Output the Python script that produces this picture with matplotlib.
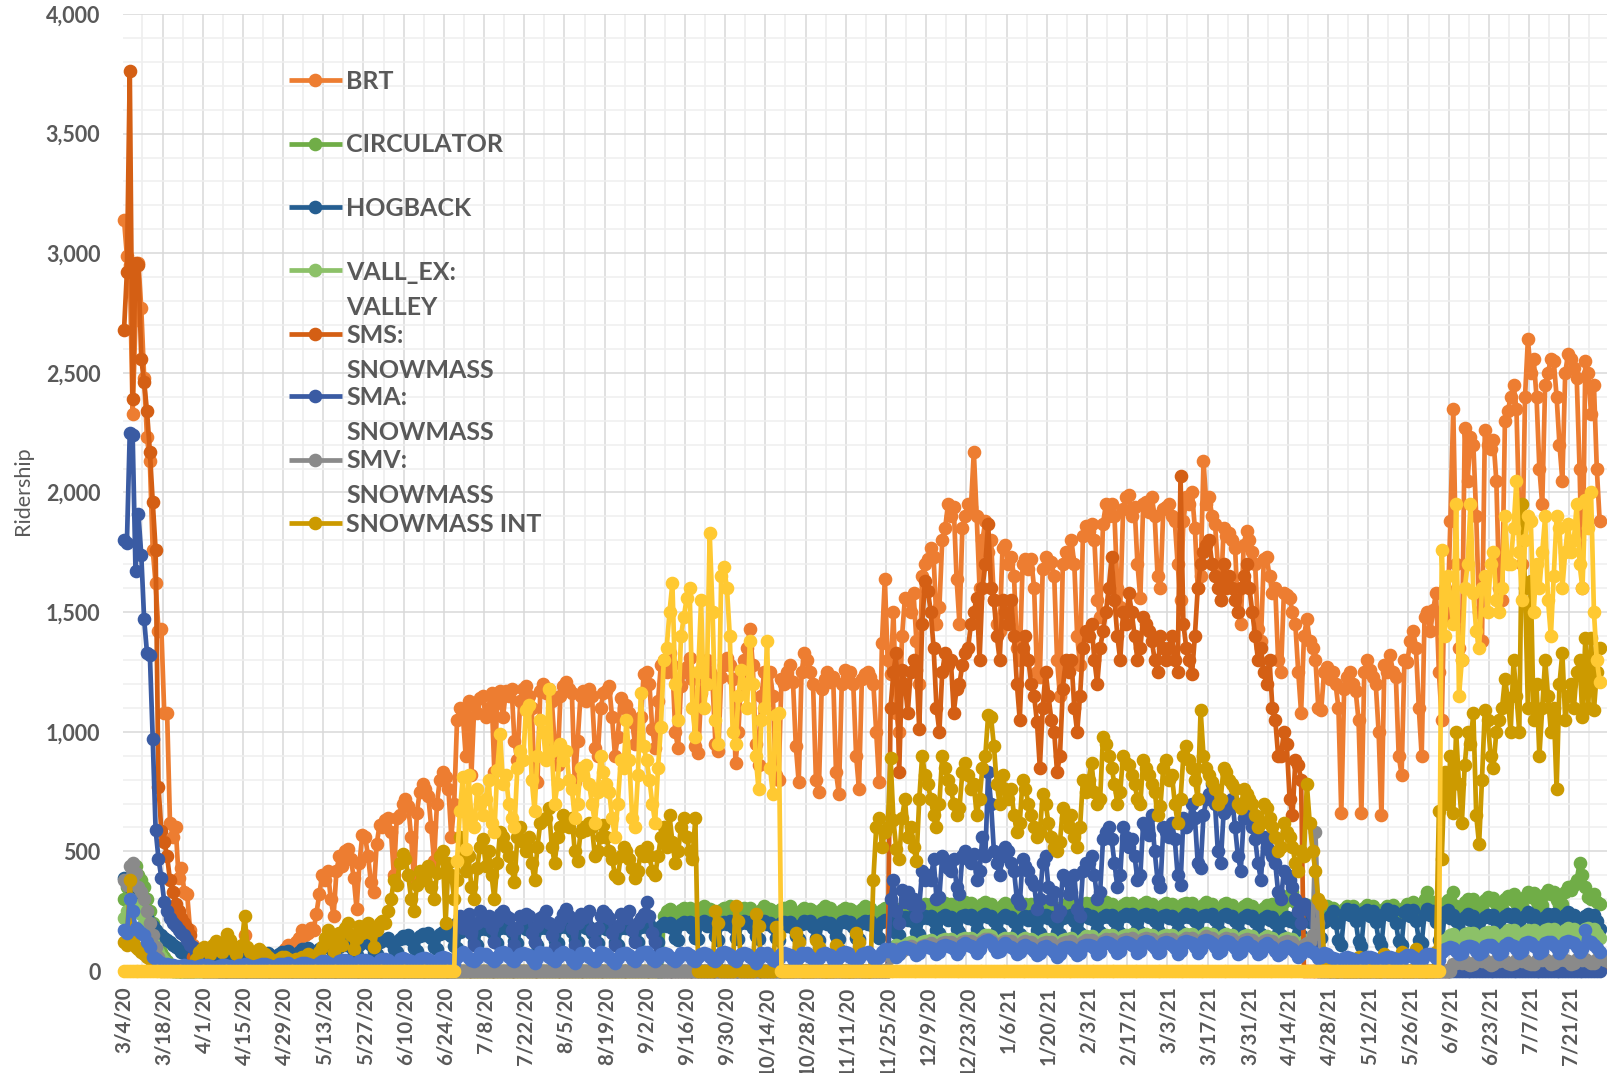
import matplotlib
matplotlib.use("Agg")
import matplotlib.pyplot as plt
from matplotlib.lines import Line2D
import numpy as np

plt.rcParams['font.family'] = ['Lato', 'DejaVu Sans']

# ---------------- data (daily, starting 3/4/20; one row = one week) ----------------
tick_labels = ['3/4/20', '3/18/20', '4/1/20', '4/15/20', '4/29/20', '5/13/20', '5/27/20',
               '6/10/20', '6/24/20', '7/8/20', '7/22/20', '8/5/20', '8/19/20', '9/2/20',
               '9/16/20', '9/30/20', '10/14/20', '10/28/20', '11/11/20', '11/25/20',
               '12/9/20', '12/23/20', '1/6/21', '1/20/21', '2/3/21', '2/17/21', '3/3/21',
               '3/17/21', '3/31/21', '4/14/21', '4/28/21', '5/12/21', '5/26/21', '6/9/21',
               '6/23/21', '7/7/21', '7/21/21']

brt = [
    3140, 2990, 2950, 2330, 2720, 2960, 2770,
    2480, 2230, 2130, 1760, 1620, 1420, 1430,
    1080, 1080, 620, 560, 600, 390, 430,
    330, 320, 170, 110, 80, 60, 50,
    40, 35, 30, 30, 25, 30, 35,
    30, 40, 35, 30, 60, 100, 40,
    150, 60, 40, 30, 40, 50, 45,
    40, 50, 60, 45, 40, 50, 60,
    90, 110, 100, 80, 120, 140, 170,
    150, 160, 180, 170, 240, 320, 400,
    380, 420, 300, 230, 420, 480, 440,
    500, 510, 470, 390, 260, 450, 570,
    560, 480, 370, 330, 530, 610, 600,
    630, 640, 580, 400, 640, 650, 700,
    720, 690, 560, 380, 660, 750, 780,
    760, 730, 600, 460, 700, 800, 830,
    810, 760, 560, 700, 1050, 1100, 1070,
    900, 1130, 820, 1110, 1080, 1140, 1150,
    1060, 1100, 1160, 830, 1120, 1170, 1060,
    1170, 1150, 1180, 960, 880, 1130, 1180,
    1190, 1150, 1100, 800, 790, 1170, 1200,
    1160, 1180, 1130, 950, 860, 1150, 1190,
    1210, 1180, 1160, 790, 960, 1150, 1170,
    1130, 1180, 1150, 930, 900, 1100, 1160,
    1170, 1190, 1060, 900, 980, 1140, 1100,
    1110, 1080, 1040, 950, 1000, 1060, 1240,
    1250, 1200, 1010, 930, 1130, 1280, 1300,
    1250, 1330, 1280, 1000, 930, 1190, 1250,
    1270, 1310, 1220, 940, 910, 1160, 1290,
    1300, 1250, 1200, 950, 920, 1230, 1280,
    1310, 1280, 1220, 870, 1000, 1250, 1300,
    1350, 1430, 1280, 950, 860, 1150, 1250,
    1240, 1250, 1150, 820, 800, 1220, 1200,
    1250, 1280, 1210, 940, 790, 1250, 1330,
    1300, 1250, 1200, 800, 750, 1180, 1220,
    1250, 1210, 1230, 830, 740, 1200, 1260,
    1230, 1250, 1200, 900, 760, 1220, 1240,
    1250, 1230, 1200, 1000, 790, 1370, 1640,
    1300, 1240, 1500, 1080, 1000, 1400, 1560,
    1550, 1500, 1580, 1380, 1200, 1650, 1700,
    1720, 1770, 1730, 1450, 1520, 1800, 1850,
    1950, 1900, 1940, 1640, 1450, 1850, 1900,
    1950, 1940, 2170, 1900, 1600, 1800, 1880,
    1750, 1800, 1550, 1450, 1420, 1770, 1780,
    1700, 1730, 1650, 1350, 1300, 1700, 1720,
    1680, 1720, 1600, 1250, 1230, 1680, 1730,
    1700, 1710, 1650, 1300, 1150, 1700, 1750,
    1720, 1800, 1700, 1400, 1280, 1820, 1860,
    1840, 1870, 1800, 1550, 1480, 1870, 1950,
    1900, 1950, 1900, 1600, 1520, 1930, 1980,
    1990, 1900, 1940, 1700, 1560, 1950, 1960,
    1920, 1980, 1900, 1650, 1600, 1930, 1940,
    1950, 1900, 1880, 1700, 1550, 1880, 1980,
    1950, 2000, 1850, 1600, 1650, 2130, 1950,
    1980, 1900, 1870, 1700, 1550, 1850, 1820,
    1830, 1800, 1770, 1500, 1450, 1780, 1840,
    1800, 1750, 1700, 1430, 1380, 1720, 1730,
    1650, 1580, 1600, 1300, 1250, 1580, 1570,
    1560, 1500, 1450, 1250, 1080, 1400, 1470,
    1380, 1350, 1300, 1100, 1090, 1250, 1270,
    1220, 1250, 1200, 1100, 660, 1180, 1230,
    1250, 1200, 1170, 1050, 660, 1250, 1300,
    1260, 1230, 1200, 1000, 650, 1280, 1250,
    1320, 1250, 1230, 900, 820, 1300, 1290,
    1380, 1420, 1350, 1100, 900, 1480, 1500,
    1420, 1510, 1580, 1250, 1050, 1600, 1480,
    1880, 2350, 1700, 1350, 1300, 2270, 2050,
    2230, 2200, 1900, 1500, 1380, 2260, 2200,
    2180, 2220, 2050, 1600, 1550, 2300, 2340,
    2400, 2450, 2350, 1900, 1700, 2400, 2640,
    2500, 2560, 2400, 2100, 1950, 2450, 2500,
    2560, 2550, 2400, 2200, 2050, 2500, 2580,
    2560, 2520, 2480, 2100, 1600, 2550, 2500,
    2330, 2450, 2100, 1880,
]

circulator = (
    [300, 350, 380, 420, 440, 400, 380,
     350, 300, 250, 200, 150, 100, 80,
     60, 40, 20, 0, 0, 0, 0]
    + [0] * 161   # 3/25/20 - 9/1/20: line sits at zero
    + [0, 0, 0, 0, 0, 0, 230,
       250, 260, 245, 230, 235, 255, 265,
       255, 265, 250, 235, 240, 260, 270,
       250, 260, 245, 230, 235, 255, 265,
       260, 270, 250, 235, 240, 260, 265,
       255, 265, 245, 230, 240, 255, 270,
       250, 260, 250, 235, 235, 260, 265,
       255, 270, 245, 230, 240, 255, 265,
       250, 260, 250, 235, 235, 260, 270,
       260, 265, 245, 230, 240, 255, 265,
       255, 260, 250, 235, 235, 260, 270,
       250, 265, 245, 230, 240, 255, 265,
       260, 270, 255, 240, 245, 265, 275,
       265, 275, 260, 245, 250, 270, 280,
       270, 280, 260, 245, 250, 275, 285,
       265, 280, 265, 250, 255, 275, 290,
       270, 285, 260, 245, 250, 280, 290,
       275, 280, 265, 250, 255, 275, 285,
       270, 275, 260, 245, 250, 270, 280,
       265, 280, 260, 245, 250, 275, 285,
       270, 275, 265, 250, 255, 270, 280,
       265, 280, 260, 245, 250, 275, 285,
       270, 285, 265, 250, 255, 280, 290,
       275, 280, 260, 245, 250, 275, 285,
       270, 285, 265, 250, 255, 280, 290,
       265, 280, 260, 245, 250, 275, 285,
       270, 280, 265, 250, 255, 280, 285,
       275, 285, 260, 245, 250, 275, 290,
       270, 280, 265, 250, 255, 280, 285,
       265, 275, 260, 245, 250, 270, 280,
       260, 270, 255, 240, 245, 265, 275,
       265, 280, 270, 255, 260, 290, 310,
       320, 330, 290, 270, 260, 280, 275,
       260, 270, 255, 240, 245, 265, 270,
       255, 265, 250, 235, 240, 260, 270,
       260, 270, 250, 235, 240, 265, 275,
       255, 270, 255, 240, 245, 260, 270,
       260, 275, 250, 235, 240, 265, 280,
       270, 290, 260, 245, 250, 300, 330,
       280, 290, 265, 250, 255, 285, 295,
       285, 330, 270, 255, 260, 290, 300,
       290, 300, 275, 255, 265, 295, 310,
       295, 305, 280, 260, 265, 300, 315,
       300, 320, 285, 265, 270, 310, 330,
       310, 325, 290, 270, 275, 320, 340,
       320, 330, 295, 275, 280, 330, 350,
       340, 360, 380, 450, 400, 350, 310,
       300, 320, 290, 280]
)

hogback = [
    390, 380, 350, 400, 300, 280, 260,
    240, 220, 200, 190, 170, 160, 150,
    140, 130, 120, 110, 100, 90, 80,
    75, 70, 60, 55, 50, 45, 40,
    40, 45, 50, 40, 30, 45, 50,
    55, 60, 50, 40, 35, 55, 60,
    60, 65, 55, 45, 40, 60, 70,
    70, 75, 65, 50, 45, 70, 80,
    80, 85, 70, 55, 50, 80, 90,
    90, 95, 80, 60, 55, 90, 100,
    100, 105, 90, 70, 60, 100, 110,
    110, 115, 100, 75, 65, 110, 120,
    120, 125, 110, 80, 70, 120, 130,
    130, 140, 120, 90, 80, 135, 145,
    140, 150, 130, 95, 85, 145, 155,
    150, 160, 140, 100, 90, 155, 165,
    160, 170, 145, 105, 95, 165, 175,
    170, 180, 160, 120, 110, 175, 185,
    175, 185, 165, 125, 115, 180, 190,
    180, 190, 165, 125, 115, 185, 190,
    175, 185, 160, 120, 110, 180, 185,
    180, 190, 170, 125, 115, 185, 195,
    185, 190, 165, 130, 120, 190, 195,
    180, 185, 160, 125, 115, 185, 190,
    175, 185, 165, 120, 110, 180, 190,
    180, 190, 170, 130, 120, 185, 195,
    185, 195, 170, 130, 120, 190, 200,
    190, 200, 180, 140, 130, 195, 205,
    195, 205, 180, 140, 135, 200, 210,
    190, 200, 185, 145, 130, 195, 205,
    195, 210, 185, 140, 135, 200, 210,
    200, 205, 180, 145, 135, 205, 210,
    195, 200, 185, 140, 130, 200, 205,
    190, 205, 180, 145, 135, 195, 210,
    200, 210, 185, 140, 130, 200, 205,
    195, 200, 180, 145, 135, 205, 210,
    200, 205, 185, 140, 135, 200, 210,
    195, 210, 190, 150, 140, 205, 215,
    210, 220, 200, 160, 150, 215, 225,
    215, 225, 205, 165, 155, 220, 230,
    220, 230, 210, 170, 160, 225, 235,
    215, 225, 210, 175, 165, 230, 235,
    220, 235, 215, 175, 160, 230, 240,
    225, 230, 210, 170, 160, 225, 235,
    220, 225, 205, 165, 155, 220, 230,
    215, 230, 210, 170, 160, 225, 235,
    220, 225, 205, 165, 155, 220, 230,
    225, 235, 210, 170, 160, 230, 240,
    220, 230, 215, 175, 165, 225, 235,
    225, 235, 210, 170, 160, 230, 240,
    230, 240, 215, 175, 165, 235, 240,
    225, 235, 210, 170, 160, 230, 235,
    220, 230, 215, 175, 165, 225, 240,
    225, 235, 210, 170, 160, 230, 235,
    230, 240, 215, 175, 165, 235, 240,
    225, 230, 210, 170, 160, 225, 235,
    220, 230, 205, 165, 155, 220, 230,
    215, 225, 200, 160, 150, 215, 225,
    210, 220, 200, 160, 150, 210, 220,
    205, 215, 195, 150, 140, 205, 215,
    230, 250, 200, 130, 110, 240, 260,
    235, 255, 210, 125, 105, 245, 255,
    230, 250, 205, 130, 110, 240, 260,
    235, 250, 200, 125, 110, 245, 255,
    230, 255, 210, 130, 115, 240, 260,
    235, 250, 205, 130, 110, 245, 255,
    220, 235, 210, 170, 160, 225, 240,
    215, 230, 205, 165, 155, 225, 235,
    220, 235, 210, 170, 160, 230, 240,
    225, 240, 215, 175, 165, 230, 245,
    220, 235, 210, 170, 160, 225, 240,
    225, 240, 215, 175, 165, 235, 245,
    220, 235, 210, 170, 160, 230, 240,
    225, 235, 210, 175,
]

vall_ex = (
    [220, 250, 300, 280, 260, 250, 240,
     200, 180, 150, 120, 100, 80, 60,
     40, 30, 20, 10, 0, 0, 0]
    + [0] * 245   # 3/25/20 - 11/24/20: zero
    + [0, 80, 100, 110, 90, 100, 110,
       115, 120, 110, 95, 100, 120, 125,
       125, 130, 120, 100, 105, 130, 135,
       130, 135, 125, 105, 110, 135, 140,
       135, 140, 130, 110, 115, 140, 150,
       150, 145, 130, 110, 115, 135, 140,
       135, 140, 125, 105, 110, 135, 140,
       130, 135, 125, 105, 110, 130, 135,
       130, 135, 120, 100, 105, 130, 135,
       135, 140, 125, 105, 110, 135, 145,
       140, 145, 130, 110, 115, 140, 150,
       145, 150, 135, 110, 120, 145, 150,
       145, 155, 135, 115, 120, 150, 155,
       145, 150, 135, 110, 120, 145, 150,
       140, 150, 130, 110, 115, 145, 155,
       145, 155, 135, 115, 120, 150, 160,
       150, 155, 140, 115, 120, 150, 155,
       145, 150, 135, 110, 115, 145, 150,
       140, 145, 130, 110, 115, 140, 145,
       135, 140, 125, 105, 110, 135, 140,
       130, 135, 120, 100, 105, 125, 130,
       120, 125, 110, 90, 0, 0, 0]
    + [0] * 35    # 4/28/21 - 6/1/21: zero
    + [0, 0, 0, 0, 120, 130, 140,
       150, 155, 140, 120, 130, 155, 160,
       155, 160, 145, 125, 130, 160, 165,
       160, 165, 150, 125, 135, 160, 170,
       160, 170, 150, 130, 135, 165, 170,
       165, 170, 155, 130, 140, 170, 175,
       165, 175, 155, 135, 140, 170, 180,
       170, 175, 160, 135, 145, 175, 180,
       170, 175, 155, 140]
)

sms = (
    [2680, 2920, 3760, 2390, 2960, 2950, 2560,
     2460, 2340, 2170, 1960, 1760, 770, 585,
     540, 480, 380, 330, 280, 250, 220,
     200, 180, 150, 60, 40, 30, 20]
    + [0] * 238   # 4/1/20 - 11/24/20: zero
    + [0, 1100, 1250, 1330, 830, 1260, 1200,
       1080, 1250, 1300, 1260, 1010, 1450, 1630,
       1590, 1500, 1350, 1100, 1000, 1250, 1330,
       1280, 1300, 1080, 1180, 1200, 1280, 1330,
       1350, 1450, 1500, 1560, 1300, 1600, 1700,
       1870, 1600, 1550, 1400, 1300, 1550, 1500,
       1450, 1550, 1400, 1200, 1050, 1350, 1400,
       1300, 1200, 1150, 1040, 850, 1100, 1250,
       1150, 1050, 1000, 830, 900, 1180, 1300,
       1250, 1300, 1100, 1000, 1150, 1350, 1420,
       1400, 1450, 1300, 1200, 1350, 1420, 1500,
       1600, 1730, 1550, 1400, 1300, 1500, 1450,
       1580, 1500, 1400, 1300, 1350, 1480, 1450,
       1420, 1380, 1300, 1250, 1400, 1350, 1300,
       1350, 1400, 1300, 1250, 2070, 1450, 1350,
       1300, 1240, 1400, 1600, 1700, 1750, 1780,
       1800, 1700, 1650, 1600, 1550, 1700, 1600,
       1650, 1600, 1550, 1500, 1600, 1650, 1700,
       1600, 1500, 1400, 1300, 1350, 1250, 1200,
       1300, 1100, 1050, 900, 900, 1000, 950,
       720, 650, 880, 860, 800, 0, 0]
    + [0] * 49    # 4/21/21 - 6/8/21: zero
    + [10, 8, 12, 6, 5, 10, 12,
       10, 8, 12, 6, 5, 10, 12,
       12, 10, 14, 8, 6, 12, 14,
       12, 10, 14, 8, 6, 12, 14,
       14, 12, 15, 8, 6, 12, 15,
       14, 12, 15, 8, 6, 12, 15,
       15, 12, 16, 9, 7, 14, 16,
       15, 12, 14, 10]
)

sma = (
    [1800, 1790, 2250, 2240, 1670, 1910, 1740,
     1470, 1330, 1320, 970, 590, 470, 390,
     290, 250, 220, 200, 190, 170, 160,
     150, 130, 110, 100, 80, 60, 40,
     30, 25, 20, 15, 10, 0, 0]
    + [0] * 77    # 4/8/20 - 6/23/20: zero
    + [0, 0, 0, 0, 200, 230, 180,
       220, 240, 160, 110, 200, 250, 230,
       210, 230, 180, 120, 210, 240, 250,
       230, 220, 170, 110, 180, 230, 220,
       240, 230, 160, 120, 190, 220, 230,
       250, 200, 150, 100, 190, 210, 240,
       260, 230, 180, 110, 200, 240, 220,
       230, 250, 170, 120, 180, 230, 250,
       240, 220, 160, 110, 190, 240, 230,
       220, 250, 170, 120, 200, 220, 240,
       290, 230, 160, 120, 0, 0, 0]
    + [0] * 77    # 9/9/20 - 11/24/20: zero
    + [0, 300, 380, 250, 200, 340, 290,
       330, 280, 300, 230, 270, 420, 380,
       400, 380, 470, 300, 310, 480, 460,
       430, 420, 470, 350, 320, 480, 500,
       470, 450, 490, 380, 420, 560, 480,
       830, 700, 500, 450, 400, 480, 520,
       500, 450, 420, 300, 280, 470, 440,
       420, 380, 360, 260, 300, 450, 480,
       350, 300, 330, 230, 250, 400, 380,
       320, 330, 400, 260, 230, 420, 450,
       450, 480, 400, 300, 330, 550, 580,
       600, 550, 450, 350, 400, 600, 560,
       520, 550, 480, 380, 400, 620, 600,
       570, 650, 500, 380, 350, 600, 580,
       560, 620, 550, 400, 360, 640, 600,
       620, 700, 640, 450, 430, 650, 720,
       740, 780, 700, 500, 450, 660, 700,
       680, 720, 600, 480, 420, 640, 650,
       640, 600, 550, 450, 380, 560, 520,
       500, 480, 450, 330, 300, 420, 400,
       380, 350, 300, 250, 200, 280, 260,
       250, 230, 200, 0, 0, 0, 0]
    + [0] * 95    # 4/28/21 - 7/31/21: zero
)

smv = (
    [380, 360, 440, 450, 410, 350, 330,
     300, 250, 200, 150, 100, 60, 30,
     20, 10, 5, 5, 5, 5, 5]
    + [0] * 245   # 3/25/20 - 11/24/20: near zero
    + [10, 60, 80, 90, 70, 85, 95,
       100, 105, 95, 80, 85, 105, 110,
       110, 115, 105, 85, 90, 115, 120,
       115, 120, 110, 90, 95, 120, 125,
       120, 125, 115, 95, 100, 125, 135,
       135, 130, 115, 95, 100, 120, 125,
       120, 125, 110, 90, 95, 120, 125,
       115, 120, 110, 90, 95, 115, 120,
       115, 120, 105, 85, 90, 115, 120,
       120, 125, 110, 90, 95, 120, 130,
       125, 130, 115, 95, 100, 125, 135,
       130, 135, 120, 95, 105, 130, 135,
       130, 140, 120, 100, 105, 135, 140,
       130, 135, 120, 95, 105, 130, 135,
       125, 135, 115, 95, 100, 130, 140,
       130, 140, 120, 100, 105, 135, 145,
       135, 140, 125, 100, 105, 135, 140,
       130, 135, 120, 95, 100, 130, 135,
       125, 130, 115, 95, 100, 125, 130,
       120, 125, 110, 90, 95, 120, 125,
       115, 120, 105, 85, 90, 110, 115,
       120, 150, 580, 200, 50, 20, 10]
    + [0] * 42    # 4/20/21 - 6/4/21: zero
    + [0, 30, 35, 40,
       35, 40, 30, 25, 30, 40, 45,
       40, 45, 35, 25, 30, 45, 40,
       45, 40, 35, 30, 35, 45, 50,
       40, 45, 35, 30, 30, 45, 50,
       45, 50, 40, 30, 35, 50, 45,
       50, 45, 40, 30, 35, 50, 55,
       45, 50, 40, 35, 35, 50, 55,
       50, 45, 40, 35]
)

snowmass_int = (
    [120, 110, 380, 130, 100, 90, 80,
     70, 60, 50, 30, 20, 10, 0,
     0, 0, 0, 0, 0, 0, 0,
     0, 0, 0, 0, 50, 80, 90,
     100, 90, 70, 110, 125, 100, 80,
     120, 155, 130, 90, 70, 100, 110,
     230, 100, 80, 60, 70, 90, 80,
     70, 60, 50, 40, 30, 50, 60,
     60, 50, 40, 30, 50, 40, 60,
     60, 70, 50, 40, 60, 80, 100,
     140, 170, 120, 80, 130, 160, 110,
     180, 200, 150, 90, 140, 190, 160,
     190, 200, 160, 100, 170, 200, 210,
     200, 250, 300, 380, 360, 450, 490,
     470, 400, 300, 250, 360, 420, 380,
     400, 440, 350, 300, 410, 480, 500,
     200, 450, 400, 300, 380, 560, 500,
     420, 480, 350, 300, 430, 520, 550,
     440, 500, 400, 300, 450, 580, 560,
     520, 480, 430, 370, 560, 600, 540,
     500, 560, 450, 380, 520, 620, 630,
     640, 680, 520, 450, 560, 600, 650,
     620, 600, 640, 500, 460, 580, 600,
     590, 620, 600, 480, 500, 560, 610,
     560, 500, 470, 400, 390, 480, 520,
     500, 470, 430, 390, 420, 500, 480,
     520, 480, 420, 400, 480, 560, 600,
     520, 650, 540, 450, 500, 600, 640,
     560, 500, 470, 640, 0, 0, 0,
     0, 0, 0, 250, 200, 0, 0,
     0, 0, 0, 270, 210, 0, 0,
     0, 0, 0, 240, 190, 0, 0,
     0, 0, 0, 185, 150, 0, 0,
     0, 0, 0, 160, 120, 0, 0,
     0, 0, 0, 130, 100, 0, 0,
     0, 0, 0, 110, 90, 0, 0,
     0, 0, 0, 160, 120, 0, 0,
     0, 0, 380, 600, 640, 520, 580,
     600, 890, 630, 510, 470, 640, 720,
     560, 600, 520, 460, 720, 900, 820,
     780, 720, 650, 600, 700, 900, 850,
     800, 760, 700, 650, 680, 830, 870,
     820, 760, 780, 650, 720, 850, 900,
     1070, 1060, 940, 780, 700, 820, 760,
     720, 760, 650, 580, 620, 800, 760,
     700, 650, 600, 560, 580, 740, 700,
     620, 560, 520, 500, 540, 680, 640,
     600, 650, 560, 520, 600, 800, 750,
     800, 870, 750, 700, 720, 980, 950,
     900, 850, 780, 700, 750, 900, 870,
     860, 820, 780, 720, 700, 880, 850,
     820, 780, 750, 650, 690, 850, 880,
     800, 820, 700, 620, 720, 900, 940,
     880, 850, 800, 720, 1090, 900, 850,
     820, 790, 760, 700, 720, 850, 830,
     800, 780, 760, 700, 680, 760, 740,
     720, 700, 650, 600, 620, 700, 680,
     640, 600, 560, 500, 520, 620, 580,
     560, 520, 450, 420, 500, 480, 780,
     620, 500, 420, 300, 280, 60, 40,
     0, 30, 0, 0, 40, 0, 0,
     0, 0, 0, 60, 0, 0, 0,
     0, 50, 0, 0, 0, 70, 0,
     0, 0, 0, 0, 80, 0, 0,
     0, 0, 90, 0, 0, 0, 0,
     0, 0, 80, 670, 470, 830, 700,
     900, 660, 1000, 780, 620, 860, 1000,
     950, 1080, 650, 530, 800, 1090, 1050,
     900, 850, 1000, 1050, 1100, 1220, 1140,
     1000, 1300, 1150, 1000, 1950, 1600, 1100,
     1630, 1050, 1200, 900, 1100, 1300, 1150,
     1000, 1100, 760, 1200, 1330, 1050, 1150,
     1200, 1100, 1250, 1300, 1060, 1390, 1100,
     1390, 1090, 1250, 1350]
)

# unlabeled series (legend entries cut off in the original)
yellow_series = (
    [0] * 116     # 3/4/20 - 6/27/20: zero
    + [460, 670, 810,
       510, 820, 640, 600, 760, 700, 650,
       720, 800, 620, 580, 840, 990, 780,
       820, 700, 640, 600, 850, 920, 880,
       1090, 1110, 800, 670, 900, 1050, 1000,
       880, 1180, 920, 700, 780, 950, 880,
       920, 800, 760, 640, 700, 850, 820,
       860, 780, 700, 620, 750, 900, 830,
       780, 750, 640, 560, 700, 880, 850,
       1050, 880, 640, 600, 820, 1160, 940,
       880, 800, 700, 620, 850, 1020, 1300,
       1350, 1500, 1620, 1200, 1050, 1400, 1480,
       1560, 1600, 1100, 980, 1250, 1550, 1100,
       1200, 1830, 1500, 1050, 950, 1650, 1690,
       1600, 1400, 1000, 950, 1150, 1260, 1200,
       1100, 1380, 1200, 900, 760, 1050, 1100,
       1380, 850, 740, 1070, 1080, 0, 0]
    + [0] * 228   # 10/19/20 - 6/3/21: zero
    + [1760, 1400, 1650,
       1550, 1450, 1950, 1150, 1300, 1600, 1700,
       1950, 1580, 1420, 1350, 1600, 1650, 1500,
       1700, 1750, 1550, 1500, 1600, 1900, 1700,
       1700, 1850, 2050, 1750, 1550, 1800, 1900,
       1880, 1500, 1700, 1600, 1750, 1900, 1550,
       1400, 1650, 1900, 1850, 1600, 1750, 1870,
       1750, 1800, 1950, 1700, 1600, 1970, 1850,
       2000, 1500, 1300, 1210]
)

lightblue_series = [
    170, 160, 300, 250, 180, 170, 160,
    150, 120, 100, 60, 50, 40, 35,
    30, 30, 25, 25, 20, 20, 20,
    25, 20, 20, 15, 15, 20, 25,
    20, 25, 20, 15, 15, 20, 25,
    25, 20, 20, 15, 15, 25, 25,
    30, 25, 20, 15, 20, 25, 30,
    30, 25, 20, 15, 20, 30, 30,
    30, 35, 25, 20, 20, 30, 35,
    35, 30, 25, 20, 25, 35, 40,
    40, 35, 30, 25, 30, 40, 45,
    45, 40, 30, 25, 30, 40, 45,
    45, 40, 35, 25, 30, 45, 50,
    50, 45, 35, 30, 35, 50, 55,
    50, 45, 40, 30, 35, 50, 55,
    55, 50, 40, 30, 35, 55, 60,
    55, 50, 40, 35, 60, 70, 80,
    65, 55, 45, 40, 55, 75, 70,
    70, 60, 50, 40, 55, 75, 80,
    75, 60, 45, 40, 60, 70, 75,
    70, 65, 50, 35, 55, 80, 75,
    75, 60, 50, 40, 60, 70, 80,
    70, 65, 45, 35, 55, 75, 70,
    75, 60, 50, 40, 60, 80, 75,
    70, 60, 45, 35, 55, 70, 75,
    75, 65, 50, 40, 60, 75, 80,
    80, 65, 50, 40, 55, 70, 75,
    70, 60, 50, 40, 55, 75, 70,
    75, 65, 50, 40, 60, 70, 75,
    70, 60, 45, 40, 55, 75, 80,
    75, 65, 50, 40, 60, 70, 75,
    70, 60, 50, 35, 55, 75, 70,
    75, 60, 45, 40, 55, 70, 75,
    70, 65, 50, 40, 60, 75, 70,
    75, 60, 50, 40, 55, 70, 75,
    70, 65, 45, 40, 60, 75, 80,
    75, 60, 50, 40, 55, 70, 75,
    80, 70, 55, 45, 60, 80, 90,
    85, 90, 80, 60, 70, 95, 100,
    95, 90, 85, 65, 75, 100, 105,
    100, 95, 90, 70, 80, 105, 110,
    105, 100, 90, 70, 85, 110, 115,
    110, 105, 95, 75, 90, 115, 125,
    130, 120, 100, 80, 85, 110, 115,
    105, 100, 90, 70, 80, 105, 110,
    100, 95, 85, 65, 75, 100, 105,
    95, 90, 80, 60, 70, 95, 100,
    100, 95, 85, 65, 75, 105, 110,
    110, 105, 95, 70, 80, 115, 120,
    115, 110, 95, 75, 85, 115, 120,
    115, 110, 100, 75, 85, 120, 125,
    120, 110, 95, 75, 80, 115, 120,
    115, 110, 95, 70, 85, 120, 125,
    120, 115, 100, 75, 90, 125, 130,
    125, 115, 100, 75, 85, 120, 125,
    120, 110, 95, 70, 80, 115, 120,
    110, 105, 90, 70, 80, 110, 115,
    105, 100, 85, 65, 75, 100, 105,
    95, 90, 80, 60, 70, 90, 95,
    85, 80, 70, 55, 60, 75, 70,
    60, 55, 50, 40, 45, 55, 60,
    55, 50, 45, 35, 40, 55, 60,
    60, 55, 45, 35, 40, 55, 60,
    60, 55, 50, 40, 45, 60, 65,
    65, 60, 50, 40, 45, 65, 70,
    70, 65, 55, 45, 80, 90, 95,
    100, 95, 85, 70, 75, 100, 105,
    105, 100, 85, 70, 80, 105, 110,
    110, 100, 90, 70, 80, 110, 115,
    110, 105, 90, 75, 85, 115, 120,
    115, 105, 95, 75, 85, 115, 120,
    120, 110, 95, 75, 90, 120, 125,
    120, 115, 100, 80, 90, 170, 125,
    120, 110, 95, 80,
]

series_names = ['BRT', 'CIRCULATOR', 'HOGBACK', 'VALL_EX:\nVALLEY', 'SMS:\nSNOWMASS',
                'SMA:\nSNOWMASS', 'SMV:\nSNOWMASS', 'SNOWMASS INT']
series_values = [brt, circulator, hogback, vall_ex, sms, sma, smv, snowmass_int,
                 lightblue_series, yellow_series]
series_colors = ['#ED7D31', '#70AD47', '#255E91', '#8CC168', '#D45F14', '#3A5BA3',
                 '#8A8A8A', '#CC9A00', '#4A74C6', '#FFC932']

# ---------------- figure ----------------
W, H = 1608, 1073
fig = plt.figure(figsize=(W / 100, H / 100), dpi=100)
x0_px, y0_px, y1_px = 122.6, 971, 14
ax = fig.add_axes([x0_px / W, 1 - y0_px / H, (W - x0_px) / W, (y0_px - y1_px) / H])

for vals, col in zip(series_values, series_colors):
    xs = np.arange(len(vals))
    ax.plot(xs, vals, color=col, lw=3.4, marker='o', ms=8.4, mew=1.4, mfc=col, mec=col,
            solid_joinstyle='round', clip_on=False)

ax.set_xlim(-0.5, 516.9)
ax.set_ylim(0, 4000)

grey = '#595959'
ax.set_yticks(np.arange(0, 4001, 500))
ax.set_yticklabels([f'{v:,}' for v in range(0, 4001, 500)], fontsize=15.5,
                   fontweight='bold', color=grey)
ax.set_yticks(np.arange(0, 4001, 100), minor=True)
ax.grid(axis='y', which='major', color='#D9D9D9', lw=1.1, zorder=0)
ax.grid(axis='y', which='minor', color='#EFEFEF', lw=1.1, zorder=0)
ax.set_axisbelow(True)

tick_pos = np.arange(len(tick_labels)) * 14
ax.set_xticks(tick_pos)
ax.set_xticklabels(tick_labels, rotation=90, fontsize=14.8, fontweight='bold', color=grey)
for p in tick_pos:
    ax.axvline(p - 0.6, color='#D9D9D9', lw=1.1, zorder=0)
    ax.axvline(p + 6.4, color='#ECECEC', lw=1.1, zorder=0)

ax.tick_params(axis='both', which='both', length=0)
ax.tick_params(axis='y', pad=16)
ax.tick_params(axis='x', pad=11)
for s in ax.spines.values():
    s.set_visible(False)

fig.text(23 / W, 1 - 491 / H, 'Ridership', rotation=90, fontsize=15.5, color=grey,
         ha='center', va='center')

# ---------------- legend (drawn as in the original, entries overlapping) ----------------
leg_marker_y = [80, 144, 207, 270, 334, 396, 460, 523]
leg_first_baseline = [89, 152, 216, 280, 343, 405, 468, 532]
for name, col, my, by in zip(series_names, series_colors, leg_marker_y, leg_first_baseline):
    fig.add_artist(Line2D([289 / W, 342 / W], [1 - my / H, 1 - my / H], transform=fig.transFigure,
                          color=col, lw=3.4, solid_capstyle='butt', zorder=10))
    fig.add_artist(Line2D([315.5 / W], [1 - my / H], transform=fig.transFigure, marker='o',
                          ms=8.4, mew=1.4, color=col, mfc=col, mec=col, zorder=11))
    for i, line in enumerate(name.split('\n')):
        fig.text(346 / W, 1 - (by + 35 * i) / H, line, fontsize=18, fontweight='bold',
                 color=grey, ha='left', va='baseline', zorder=12)

fig.savefig('out.png', dpi=100)
